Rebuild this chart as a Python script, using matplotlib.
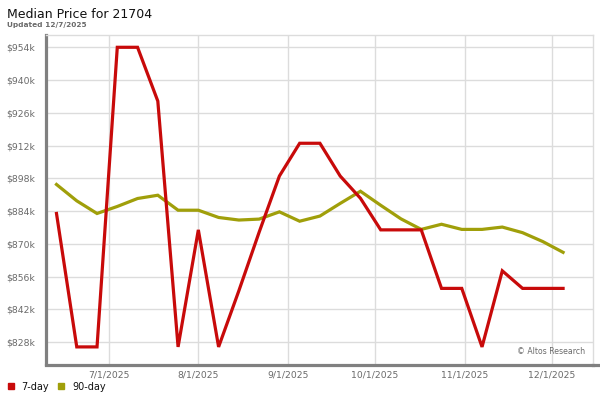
import matplotlib
matplotlib.use('Agg')
import matplotlib.pyplot as plt
import matplotlib.dates as mdates
from matplotlib.lines import Line2D
import numpy as np
import pandas as pd

# weekly data points (Fridays)
dates = pd.date_range('2025-06-13', periods=26, freq='7D')

# median price, thousands of dollars
price_7day = [883, 826, 826, 954, 954, 931, 826, 876, 826, 850, 875, 899, 913,
              913, 899, 889.5, 876, 876, 876, 851, 851, 826, 858.5, 851, 851, 851]
price_90day = [895.4, 888.4, 883, 886, 889.4, 890.8, 884.4, 884.4, 881.3, 880.2,
               880.6, 883.7, 879.7, 881.9, 887.3, 892.5, 886.5, 880.7, 876.2, 878.4,
               876.2, 876.2, 877.2, 874.8, 871, 866.4]

y_ticks = [828, 842, 856, 870, 884, 898, 912, 926, 940, 954]
x_ticks = ['2025-07-01', '2025-08-01', '2025-09-01', '2025-10-01', '2025-11-01', '2025-12-01']

red = '#c80a0a'
olive = '#a09f0a'
axis_gray = '#808080'
grid_gray = '#dcdcdc'
text_gray = '#6a6a6a'

fig = plt.figure(figsize=(6, 4), dpi=100)
ax = fig.add_axes([46 / 600, 1 - 364 / 400, (593 - 46) / 600, (364 - 35) / 400])

ax.plot(dates, price_90day, color=olive, lw=2.3, solid_joinstyle='miter', zorder=3)
ax.plot(dates, price_7day, color=red, lw=2.3, solid_joinstyle='miter', zorder=4)

# Axis ranges and ticks
ax.set_xlim(pd.Timestamp('2025-06-09 09:00'), pd.Timestamp('2025-12-15 08:00'))
ax.set_ylim(818.7, 959.25)
ax.set_yticks(y_ticks)
ax.set_yticklabels(['${}k'.format(v) for v in y_ticks])
ax.set_xticks(pd.to_datetime(x_ticks))
ax.xaxis.set_major_formatter(mdates.DateFormatter('%-m/%-d/%Y'))
ax.tick_params(length=0, labelsize=6.7, labelcolor=text_gray)
ax.tick_params(axis='y', pad=8)
ax.tick_params(axis='x', pad=3.5)
ax.grid(True, color=grid_gray, lw=1)
ax.set_axisbelow(True)

for side in ['top', 'right']:
    ax.spines[side].set_color(grid_gray)
    ax.spines[side].set_linewidth(1)
ax.spines['left'].set_color(axis_gray)
ax.spines['left'].set_linewidth(2.3)
ax.spines['bottom'].set_color(axis_gray)
ax.spines['bottom'].set_linewidth(2.3)
ax.spines['bottom'].set_position(('outward', 1))
# bottom axis runs on a little past the plot
ax.add_line(Line2D([1.0, 1.01], [-0.003, -0.003], transform=ax.transAxes,
                   color=axis_gray, lw=2.3, clip_on=False))

ax.text(0.985, 0.025, '\u00a9 Altos Research', transform=ax.transAxes,
        ha='right', va='bottom', fontsize=5.6, color=text_gray)

# Titles
fig.text(7 / 600, 1 - 18.3 / 400, 'Median Price for 21704', fontsize=9,
         color='#111111', va='baseline', ha='left')
fig.text(7 / 600, 1 - 27.3 / 400, 'Updated 12/7/2025', fontsize=5.3,
         color=text_gray, fontweight='bold', va='baseline', ha='left')

# Legend
for xm, xt, col, lab in [(10.8, 21.5, red, '7-day'), (61.5, 72.5, olive, '90-day')]:
    fig.add_artist(Line2D([xm / 600], [1 - 386 / 400], transform=fig.transFigure,
                          marker='s', markersize=4, color=col, lw=0))
    fig.text(xt / 600, 1 - 386.5 / 400, lab, fontsize=7, color='#111111',
             va='center', ha='left')

fig.savefig('out.png', dpi=100)
